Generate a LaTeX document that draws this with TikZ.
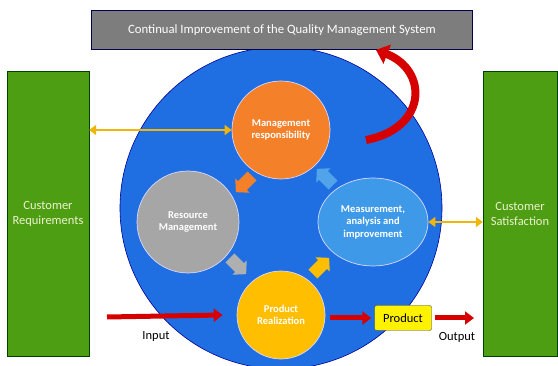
\documentclass[tikz,border=0pt]{standalone}
\usepackage{fontspec}
\setmainfont{Carlito}
\usetikzlibrary{shapes.arrows,shapes.geometric,arrows.meta}
\definecolor{qmsblue}{RGB}{31,110,226}
\definecolor{qmsgreen}{RGB}{78,158,20}
\definecolor{custtext}{RGB}{236,242,205}
\definecolor{mgmtorange}{RGB}{245,128,42}
\definecolor{resgray}{RGB}{166,166,166}
\definecolor{measblue}{RGB}{62,154,232}
\definecolor{realgold}{RGB}{255,190,0}
\definecolor{qmsred}{RGB}{215,0,0}
\definecolor{qmslink}{RGB}{240,180,10}
\definecolor{bannergray}{RGB}{125,125,125}

\begin{document}
\begin{tikzpicture}[x=1pt, y=-1pt,
    proc/.style={circle, draw=white!85!blue, line width=0.7pt, text=white, align=center, inner sep=0pt,
        font=\bfseries\fontsize{10.5}{12.5}\selectfont},
    cust/.style={rectangle, draw=green!25!black, fill=qmsgreen, minimum width=82pt, minimum height=285pt,
        text=custtext, align=center, font=\fontsize{12.5}{15}\selectfont},
    flow/.style={single arrow, draw=none, minimum height=23pt, inner xsep=0pt, inner ysep=6pt,
        single arrow head extend=4pt, single arrow tip angle=95},
    link/.style={draw=qmslink, line width=2pt, {Triangle[length=7pt,width=10pt]}-{Triangle[length=7pt,width=10pt]}},
    redarrow/.style={draw=qmsred, line width=5pt, -{Triangle[length=9pt,width=13pt]}},
    plain/.style={font=\fontsize{12.5}{15}\selectfont}]
    \useasboundingbox (0,0) rectangle (558,366);

    % the big circle
    \node[circle, draw=blue!60!black, line width=0.6pt, fill=qmsblue, minimum size=322pt] (qms) at (281,208) {};

    % the banner
    \node[rectangle, draw=blue!30!black, line width=0.8pt, fill=bannergray, minimum width=381pt, minimum height=39pt,
        text=white, font=\fontsize{12.7}{15}\selectfont] (cont) at (282,30)
        {Continual Improvement of the Quality Management System};

    % the customers
    \node[cust] (req) at (48,214) {Customer\\Requirements};
    \node[cust, minimum width=74pt] (sat) at (520,214) {Customer\\Satisfaction};

    % the processes
    \node[proc, fill=mgmtorange, minimum size=98pt] (mgmt) at (281,130) {Management\\responsibility};
    \node[proc, fill=resgray, minimum size=102pt] (res) at (188,222) {Resource\\Management};
    \node[proc, ellipse, fill=measblue, minimum width=110pt, minimum height=88pt] (meas) at (373,222)
        {Measurement,\\analysis and\\improvement};
    \node[proc, fill=realgold, minimum size=88pt] (real) at (281,315) {Product\\Realization};

    % the cycle arrows
    \node[flow, fill=mgmtorange, rotate=225] (f1) at (246,182) {};
    \node[flow, fill=resgray!90!white, rotate=-45] (f2) at (236,264) {};
    \node[flow, fill=realgold, rotate=45] (f3) at (319,268) {};
    \node[flow, fill=measblue!90!white, rotate=135] (f4) at (327,179) {};

    % links to the customers
    \draw[link] (req.east |- mgmt.west) -- (mgmt.west);
    \draw[link] (meas.east) -- (meas.east -| sat.west);

    % improvement arrow
    \coordinate (up) at (366,140);
    \draw[draw=qmsred, line width=8pt, -{Triangle[length=12pt,width=20pt]}]
        (up) .. controls (428,128) and (428,70) .. (cont.south -| 376,52);

    % input and output
    \coordinate (in) at (107,317);
    \coordinate (out) at (474,318);
    \node[rectangle, draw=black!75, fill=yellow, rounded corners=2pt, minimum width=57pt, minimum height=25pt,
        plain] (prod) at (403,318) {Product};
    \draw[redarrow] (in) -- ([xshift=-14pt]real.west);
    \draw[redarrow, shorten <=5pt, shorten >=3pt] (real.east |- prod.west) -- (prod.west);
    \draw[redarrow, shorten <=3pt] (prod.east) -- (out);
    \node[plain] (inlab) at (156,336) {Input};
    \node[plain] (outlab) at (457,337) {Output};
\end{tikzpicture}
\end{document}
